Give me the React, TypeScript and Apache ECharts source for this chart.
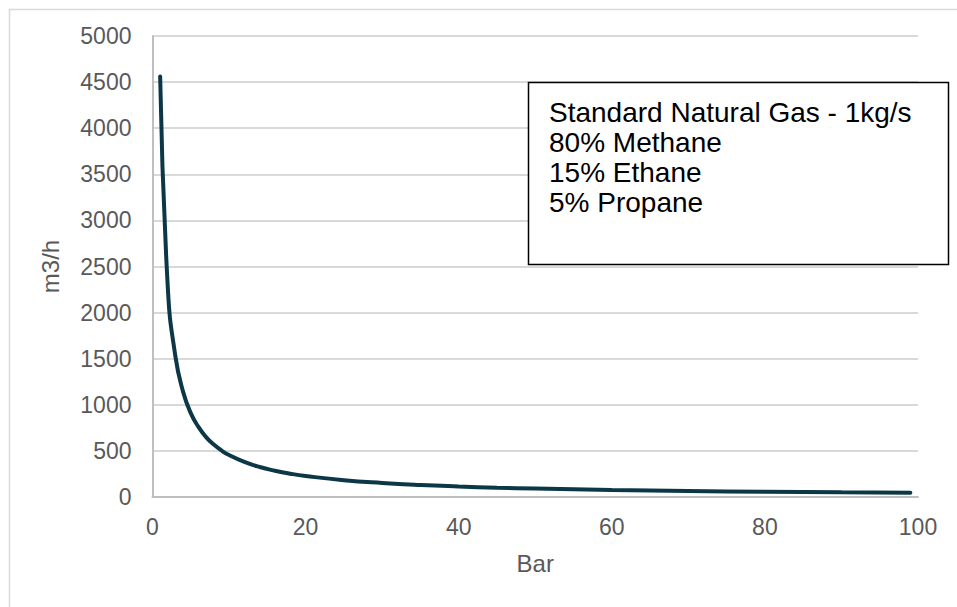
import React, { useEffect, useRef } from "react";
import * as echarts from "echarts";

// Pressure (bar)
const pressureBar = [1, 2, 3, 4, 5, 6, 7, 8, 9, 10, 12, 14, 16, 18, 20, 25, 30, 35, 40, 45, 50, 60, 70, 80, 90, 99];
// Volumetric flow (m3/h)
const flowM3h = [4560, 2270, 1520, 1140, 910, 760, 650, 570, 505, 455, 380, 325, 285, 253, 228, 182, 152, 130, 114, 101, 91, 76, 65, 57, 51, 46];

const boxLines = ["Standard Natural Gas - 1kg/s", "80% Methane", "15% Ethane", "5% Propane"];
const xAxisTitle = "Bar";
const yAxisTitle = "m3/h";

const FONT = "'Liberation Sans', Arial, sans-serif";
const TEXT_COLOR = "#595959";

export default function App() {
  const ref = useRef<HTMLDivElement>(null);

  useEffect(() => {
    if (!ref.current) return;
    const chart = echarts.init(ref.current, null, { renderer: "svg" });
    const data = pressureBar.map((p, i) => [p, flowM3h[i]]);

    const lineY0 = 112;
    const lineStep = 30;

    chart.setOption({
      animation: false,
      backgroundColor: "#ffffff",
      textStyle: { fontFamily: FONT },
      grid: { left: 152.5, right: 39, top: 36, bottom: 110, containLabel: false },
      xAxis: {
        type: "value",
        min: 0,
        max: 100,
        interval: 20,
        name: xAxisTitle,
        nameLocation: "middle",
        nameGap: 54,
        nameTextStyle: { color: TEXT_COLOR, fontSize: 24, fontFamily: FONT },
        axisLine: { show: true, onZero: false, lineStyle: { color: "#bfbfbf", width: 2 } },
        axisTick: { show: false },
        splitLine: { show: false },
        axisLabel: { color: TEXT_COLOR, fontSize: 23, margin: 18, fontFamily: FONT, formatter: (v: number) => String(v) },
      },
      yAxis: {
        type: "value",
        min: 0,
        max: 5000,
        interval: 500,
        name: yAxisTitle,
        nameLocation: "middle",
        nameGap: 90,
        nameRotate: 90,
        nameTextStyle: { color: TEXT_COLOR, fontSize: 24, fontFamily: FONT },
        axisLine: { show: true, lineStyle: { color: "#bfbfbf", width: 2 } },
        axisTick: { show: false },
        splitLine: { show: true, lineStyle: { color: "#d9d9d9", width: 2 } },
        axisLabel: { color: TEXT_COLOR, fontSize: 23, margin: 21, fontFamily: FONT, formatter: (v: number) => String(v) },
      },
      series: [
        {
          type: "line",
          data,
          smooth: true,
          showSymbol: false,
          symbol: "none",
          lineStyle: { color: "#0b3747", width: 4, cap: "round" },
          z: 3,
        },
      ],
      graphic: [
        {
          type: "rect",
          left: 7,
          top: 7,
          shape: { x: 0, y: 0, width: 1000, height: 700 },
          style: { fill: "none", stroke: "#d9d9d9", lineWidth: 1.5 },
          silent: true,
          z: 0,
        },
        {
          type: "rect",
          shape: { x: 528.5, y: 82.5, width: 420, height: 182 },
          style: { fill: "#ffffff", stroke: "#000000", lineWidth: 1.5 },
          z: 10,
        },
        ...boxLines.map((t, i) => ({
          type: "text",
          x: 549,
          y: lineY0 + i * lineStep,
          style: {
            text: t,
            fill: "#000000",
            font: `28px ${FONT}`,
            textAlign: "left",
            textVerticalAlign: "middle",
          },
          z: 11,
        })),
      ],
    });

    return () => chart.dispose();
  }, []);

  return (
    <div
      ref={ref}
      style={{ position: "absolute", left: 0, top: 0, width: 957, height: 607 }}
    />
  );
}
